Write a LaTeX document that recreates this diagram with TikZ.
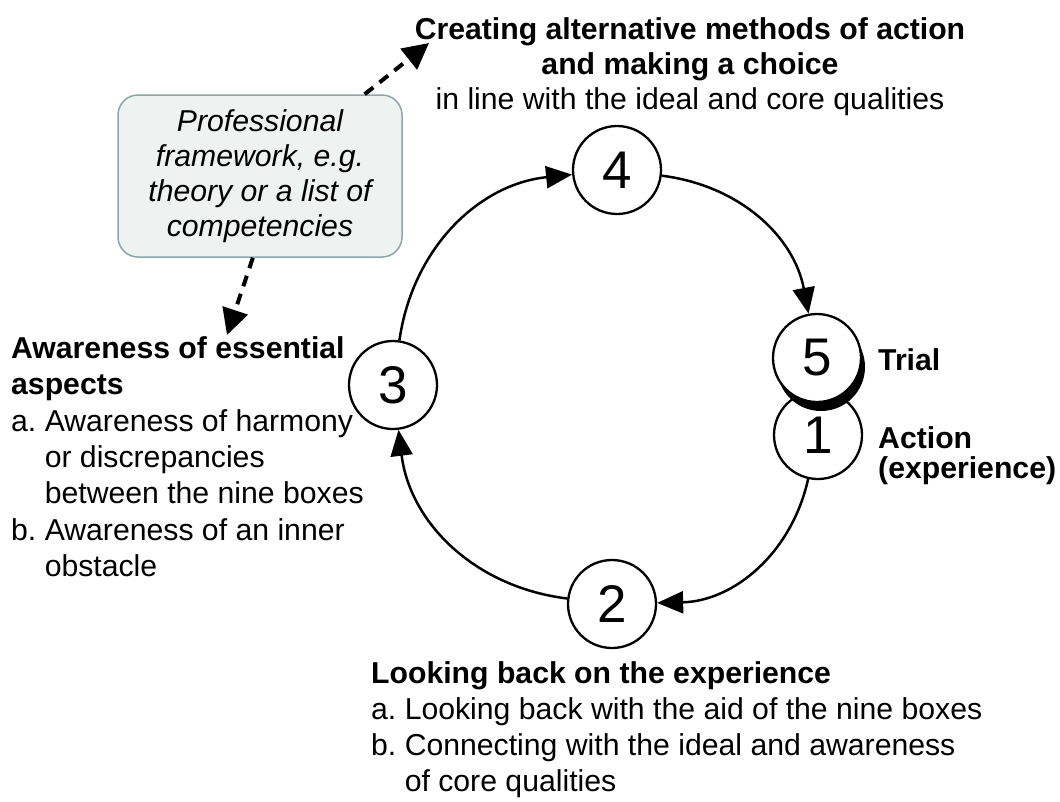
\documentclass[tikz,border=0pt]{standalone}
\usepackage{fontspec}
\setmainfont{Liberation Sans}
\usetikzlibrary{arrows.meta,shadows}
\definecolor{boxborder}{RGB}{140,166,170}
\definecolor{boxfill}{RGB}{238,242,240}
\begin{document}
\begin{tikzpicture}[x=1pt,y=1pt,
  txt/.style={font=\fontsize{30.2}{36.3}\selectfont\frenchspacing, inner sep=0pt},
  txtb/.style={font=\fontsize{30.2}{36}\selectfont\bfseries, inner sep=0pt},
  num/.style={circle, draw, line width=2.3pt, fill=white, minimum size=88pt, inner sep=0pt, font=\fontsize{53}{53}\selectfont},
  cyc/.style={line width=2.5pt, -{Triangle[length=26pt,width=22pt]}},
  dasharrow/.style={line width=4pt, dash pattern=on 11pt off 8pt, -{Triangle[length=26pt,width=26pt]}},
  framebox/.style={draw=boxborder, fill=boxfill, line width=1.5pt, rounded corners=20pt, minimum width=284pt, minimum height=162pt, align=center, font=\fontsize{30.2}{35}\selectfont\itshape, inner sep=0pt}
]
\useasboundingbox (0,0) rectangle (1060,-801);

% cycle nodes
\node[num] (n4) at (617,-170) {4};
\node[num] (n1) at (818,-435) {1};
\node[num, drop shadow={shadow xshift=4pt, shadow yshift=-9pt, opacity=1, fill=black}] (n5) at (817,-358) {5};
\node[num] (n2) at (612,-604) {2};
\node[num] (n3) at (393,-385) {3};

\draw[cyc] (n4) to[bend left=36] (n5);
\draw[cyc] (n1) to[bend left=38] (n2);
\draw[cyc] (n2) to[bend left=38] (n3);
\draw[cyc] (n3) to[bend left=38] (n4);

% texts
\node[txt, anchor=north, align=center, font=\fontsize{30.2}{35}\selectfont] (top) at (690,-17)
  {\textbf{Creating alternative methods of action}\\ \textbf{and making a choice}\\ in line with the ideal and core qualities};

\node[txt, anchor=north west, align=left] (aware) at (11,-336.5)
  {\textbf{Awareness of essential}\\ \textbf{aspects}\\ a. Awareness of harmony\\ \hphantom{a.\ }or discrepancies\\ \hphantom{a.\ }between the nine boxes\\ b. Awareness of an inner\\ \hphantom{b.\ }obstacle};

\node[txt, anchor=north west, align=left, font=\fontsize{30.2}{36}\selectfont\frenchspacing] (look) at (371,-661.5)
  {\textbf{Looking back on the experience}\\ a. Looking back with the aid of the nine boxes\\ b. Connecting with the ideal and awareness\\ \hphantom{b.\ }of core qualities};

\node[txtb, anchor=base west] (trial) at (878,-370) {Trial};
\node[txtb, anchor=north west, align=left, font=\fontsize{30.2}{30}\selectfont\bfseries] (action) at (878,-426) {Action\\(experience)};

% framework box
\node[framebox] (frame) at (260,-176) {Professional\\framework, e.g.\\theory or a list of\\competencies};

\coordinate (tipA) at (429,-43);
\coordinate (tipB) at (227,-335);
\draw[dasharrow] (frame.38) -- (tipA);
\draw[dasharrow] (frame.265) -- (tipB);
\end{tikzpicture}
\end{document}
